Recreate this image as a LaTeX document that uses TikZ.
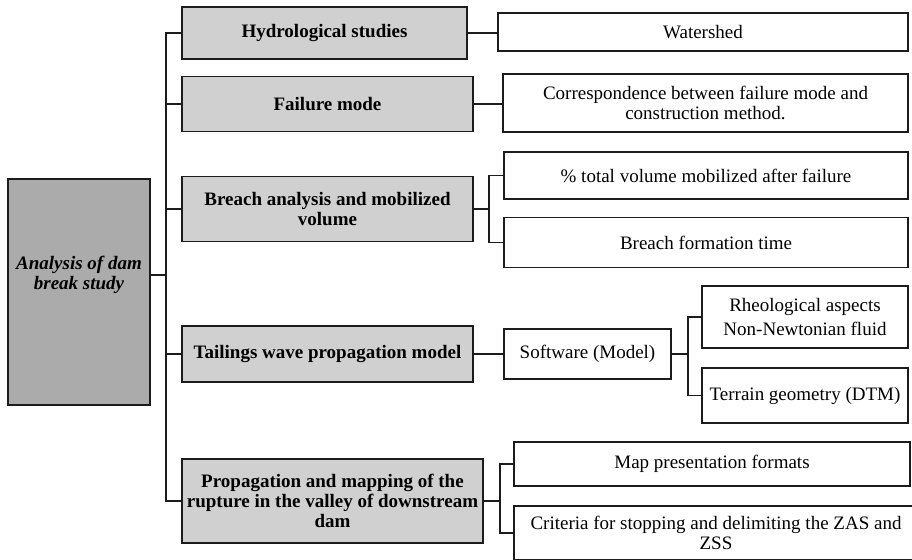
\documentclass[tikz,border=0pt]{standalone}
\usepackage{fontspec}
\setmainfont{Liberation Serif}
\usetikzlibrary{calc}
\definecolor{rootgray}{HTML}{ABABAB}
\definecolor{lvgray}{HTML}{D0D0D0}
\definecolor{edge}{HTML}{1C1C1C}
\begin{document}
\begin{tikzpicture}[x=1pt,y=-1pt,
  base/.style={draw=edge,line width=1.7pt,rectangle,inner sep=0pt,align=center,
    font=\fontsize{19}{20}\selectfont},
  rootbox/.style={base,fill=rootgray},
  lvbox/.style={base,fill=lvgray,font=\fontsize{19}{20}\selectfont\bfseries},
  leafbox/.style={base,fill=white},
  conn/.style={draw=edge,line width=1.5pt}]
\useasboundingbox (0,0) rectangle (912,559);
\clip (0,0) rectangle (912,559);
% root
\node[rootbox,minimum width=142pt,minimum height=226pt] (root) at (79,292) {};
\node[font=\fontsize{19}{20}\selectfont\bfseries\itshape,align=center] (roottxt) at (79,275) {Analysis of dam\\break study};
% level 1
\node[lvbox,minimum width=285pt,minimum height=52pt] (hyd) at (324.5,33) {Hydrological studies};
\node[lvbox,minimum width=291pt,minimum height=55pt] (fail) at (327.5,104) {Failure mode};
\node[lvbox,minimum width=291pt,minimum height=65pt] (breach) at (327.5,209) {Breach analysis and mobilized\\volume};
\node[lvbox,minimum width=291pt,minimum height=56pt] (tail) at (327.5,354) {Tailings wave propagation model};
\node[lvbox,minimum width=301pt,minimum height=84pt] (prop) at (332.5,501) {Propagation and mapping of the\\rupture in the valley of downstream\\dam};
% leaves
\node[leafbox,minimum width=410pt,minimum height=38pt] (water) at (703,32) {Watershed};
\node[leafbox,minimum width=405pt,minimum height=58pt] (corr) at (705.5,103) {Correspondence between failure mode and\\construction method.};
\node[leafbox,minimum width=404pt,minimum height=47pt] (pct) at (706,175.5) {\% total volume mobilized after failure};
\node[leafbox,minimum width=404pt,minimum height=50pt] (bft) at (706,242.5) {Breach formation time};
\node[leafbox,minimum width=167pt,minimum height=50pt] (soft) at (587.5,354) {Software (Model)};
\node[leafbox,minimum width=206pt,minimum height=62pt] (rheo) at (805,317) {Rheological aspects\\[4pt]Non-Newtonian fluid};
\node[leafbox,minimum width=206pt,minimum height=55pt] (terr) at (805,395.5) {Terrain geometry (DTM)};
\node[leafbox,minimum width=396pt,minimum height=44pt] (map) at (712,464) {Map presentation formats};
\node[leafbox,minimum width=404pt,minimum height=54pt] (crit) at (716,533) {Criteria for stopping and delimiting the ZAS and\\ZSS};
% connectors
\coordinate (tk) at (166,0);
\draw[conn] (root.east |- roottxt) -- (tk |- roottxt);
\draw[conn] (hyd.west) -- (tk |- hyd.west) -- (tk |- prop.west) -- (prop.west);
\draw[conn] (fail.west) -- (tk |- fail.west);
\draw[conn] (breach.west) -- (tk |- breach.west);
\draw[conn] (tail.west) -- (tk |- tail.west);
\draw[conn] (hyd.east) -- (water.west |- hyd.east);
\draw[conn] (fail.east) -- (corr.west |- fail.east);
\draw[conn] (breach.east) -- ++(15,0) |- (pct.west);
\draw[conn] (breach.east) -- ++(15,0) |- (bft.west);
\draw[conn] (tail.east) -- (soft.west);
\draw[conn] (soft.east) -- ++(16,0) |- (rheo.west);
\draw[conn] (soft.east) -- ++(16,0) |- (terr.west);
\draw[conn] (prop.east) -- ++(16,0) |- (map.west);
\draw[conn] (prop.east) -- ++(16,0) |- (crit.west);
\end{tikzpicture}
\end{document}
